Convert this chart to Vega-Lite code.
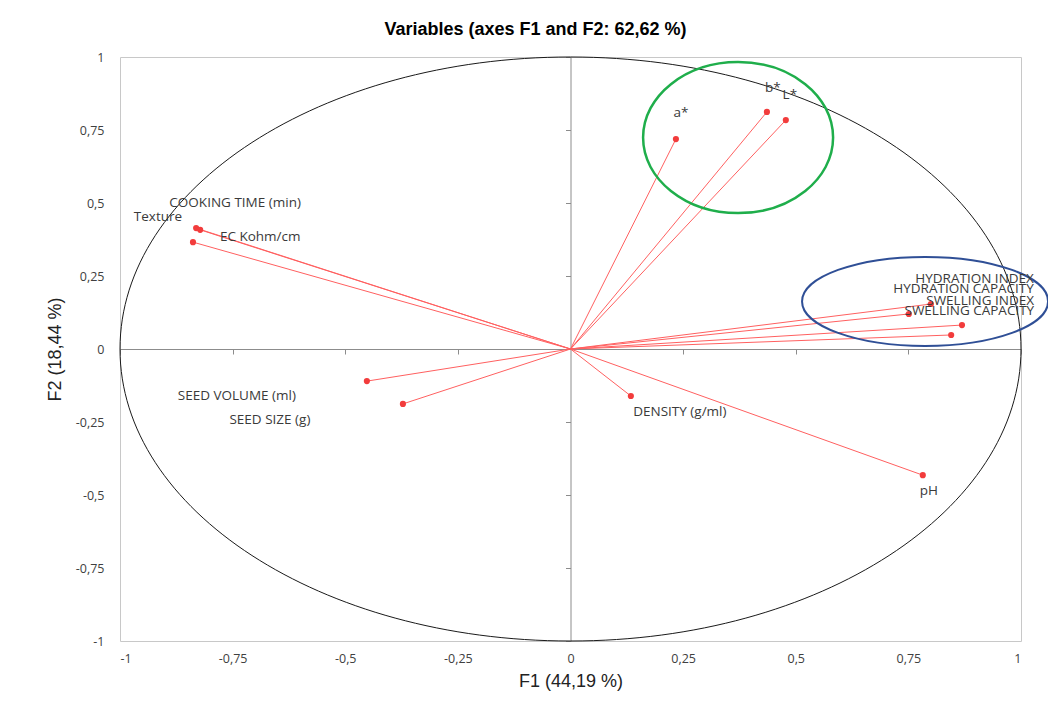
{
  "$schema": "https://vega.github.io/schema/vega-lite/v6.json",
  "width": 901,
  "height": 584,
  "autosize": {"type": "none"},
  "padding": {"left": 120, "top": 57, "right": 27, "bottom": 77},
  "background": "white",
  "config": {
    "view": {"stroke": "#C8C8C8", "strokeWidth": 1},
    "text": {"font": "Open Sans", "fontSize": 13.5, "color": "#3A3A3A", "baseline": "middle"}
  },
  "title": {
    "text": "Variables (axes F1 and F2: 62,62 %)",
    "font": "Liberation Sans",
    "fontSize": 18,
    "fontWeight": "bold",
    "color": "#000000",
    "anchor": "middle",
    "dx": -35,
    "offset": 12
  },
  "datasets": {
    "vars": [
      {"name": "a*", "F1": 0.234, "F2": 0.719},
      {"name": "b*", "F1": 0.436, "F2": 0.812},
      {"name": "L*", "F1": 0.478, "F2": 0.784},
      {"name": "COOKING TIME (min)", "F1": -0.831, "F2": 0.414},
      {"name": "EC Kohm/cm", "F1": -0.822, "F2": 0.408},
      {"name": "Texture", "F1": -0.838, "F2": 0.366},
      {"name": "SEED VOLUME (ml)", "F1": -0.452, "F2": -0.110},
      {"name": "SEED SIZE (g)", "F1": -0.372, "F2": -0.188},
      {"name": "DENSITY (g/ml)", "F1": 0.134, "F2": -0.161},
      {"name": "pH", "F1": 0.782, "F2": -0.432},
      {"name": "HYDRATION INDEX", "F1": 0.800, "F2": 0.154},
      {"name": "HYDRATION CAPACITY", "F1": 0.751, "F2": 0.120},
      {"name": "SWELLING INDEX", "F1": 0.869, "F2": 0.082},
      {"name": "SWELLING CAPACITY", "F1": 0.845, "F2": 0.048}
    ],
    "rings": [
      {"group": "colour", "F1": 0.372, "F2": 0.724},
      {"group": "hydration", "F1": 0.787, "F2": 0.163}
    ]
  },
  "resolve": {"axis": {"x": "independent", "y": "independent"}},
  "layer": [
    {
      "data": {"values": [{"F1": 0, "F2": 0}]},
      "mark": {
        "type": "point",
        "shape": "M -1 0 C -1 -0.358 -0.5523 -0.6482 0 -0.6482 C 0.5523 -0.6482 1 -0.358 1 0 C 1 0.358 0.5523 0.6482 0 0.6482 C -0.5523 0.6482 -1 0.358 -1 0 Z",
        "size": 811801,
        "filled": false,
        "stroke": "#1a1a1a",
        "strokeWidth": 1,
        "opacity": 1
      },
      "encoding": {
        "x": {
          "field": "F1", "type": "quantitative",
          "scale": {"domain": [-1, 1], "nice": false, "zero": false},
          "axis": {
            "title": "F1 (44,19 %)",
            "values": [-1, -0.75, -0.5, -0.25, 0, 0.25, 0.5, 0.75, 1],
            "labelExpr": "replace(toString(datum.value), '.', ',')",
            "grid": false, "ticks": false, "domain": false,
            "labelPadding": 11,
            "labelFont": "Open Sans", "labelFontSize": 12.5, "labelColor": "#404040",
            "titleFont": "Liberation Sans", "titleFontSize": 18, "titleFontWeight": "normal", "titleColor": "#222222",
            "titlePadding": 8
          }
        },
        "y": {
          "field": "F2", "type": "quantitative",
          "scale": {"domain": [-1, 1], "nice": false, "zero": false},
          "axis": {
            "title": "F2 (18,44 %)",
            "values": [-1, -0.75, -0.5, -0.25, 0, 0.25, 0.5, 0.75, 1],
            "labelExpr": "replace(toString(datum.value), '.', ',')",
            "grid": false, "ticks": false, "domain": false,
            "labelPadding": 16,
            "labelFont": "Open Sans", "labelFontSize": 12.5, "labelColor": "#404040",
            "titleFont": "Liberation Sans", "titleFontSize": 18, "titleFontWeight": "normal", "titleColor": "#222222",
            "titlePadding": 11
          }
        }
      }
    },
    {
      "data": {"name": "vars"},
      "mark": {"type": "rule", "color": "#FF6060", "strokeWidth": 1},
      "encoding": {
        "x": {
          "field": "F1", "type": "quantitative",
          "axis": {
            "orient": "bottom", "offset": -292,
            "values": [-1, -0.75, -0.5, -0.25, 0.25, 0.5, 0.75, 1],
            "labels": false, "title": null, "grid": false,
            "domainColor": "#8C8C8C", "tickColor": "#8C8C8C", "tickSize": 5
          }
        },
        "y": {
          "field": "F2", "type": "quantitative",
          "axis": {
            "orient": "left", "offset": -450.5,
            "values": [-1, -0.75, -0.5, -0.25, 0.25, 0.5, 0.75, 1],
            "labels": false, "title": null, "grid": false,
            "domainColor": "#8C8C8C", "tickColor": "#8C8C8C", "tickSize": 5
          }
        },
        "x2": {"datum": 0},
        "y2": {"datum": 0}
      }
    },
    {
      "data": {"name": "vars"},
      "mark": {"type": "circle", "color": "#F23C3C", "size": 38, "opacity": 1},
      "encoding": {
        "x": {"field": "F1", "type": "quantitative", "axis": null},
        "y": {"field": "F2", "type": "quantitative", "axis": null}
      }
    },
    {
      "data": {"name": "rings"},
      "transform": [{"filter": "datum.group === 'colour'"}],
      "mark": {
        "type": "point",
        "shape": "M -1 0 C -1 -0.439 -0.5523 -0.795 0 -0.795 C 0.5523 -0.795 1 -0.439 1 0 C 1 0.439 0.5523 0.795 0 0.795 C -0.5523 0.795 -1 0.439 -1 0 Z",
        "size": 36100, "filled": false, "stroke": "#1FAE4B", "strokeWidth": 2.5, "opacity": 1
      },
      "encoding": {
        "x": {"field": "F1", "type": "quantitative", "axis": null},
        "y": {"field": "F2", "type": "quantitative", "axis": null}
      }
    },
    {
      "data": {"name": "rings"},
      "transform": [{"filter": "datum.group === 'hydration'"}],
      "mark": {
        "type": "point",
        "shape": "M -1 0 C -1 -0.2 -0.5523 -0.362 0 -0.362 C 0.5523 -0.362 1 -0.2 1 0 C 1 0.2 0.5523 0.362 0 0.362 C -0.5523 0.362 -1 0.2 -1 0 Z",
        "size": 60516, "filled": false, "stroke": "#2F4F96", "strokeWidth": 2, "opacity": 1
      },
      "encoding": {
        "x": {"field": "F1", "type": "quantitative", "axis": null},
        "y": {"field": "F2", "type": "quantitative", "axis": null}
      }
    },
    {"data": {"name": "vars"}, "transform": [{"filter": "datum.name === 'a*'"}],
     "mark": {"type": "text", "align": "center", "dx": 5, "dy": -26},
     "encoding": {"x": {"field": "F1", "type": "quantitative", "axis": null}, "y": {"field": "F2", "type": "quantitative", "axis": null}, "text": {"field": "name"}}},
    {"data": {"name": "vars"}, "transform": [{"filter": "datum.name === 'b*'"}],
     "mark": {"type": "text", "align": "center", "dx": 6, "dy": -24},
     "encoding": {"x": {"field": "F1", "type": "quantitative", "axis": null}, "y": {"field": "F2", "type": "quantitative", "axis": null}, "text": {"field": "name"}}},
    {"data": {"name": "vars"}, "transform": [{"filter": "datum.name === 'L*'"}],
     "mark": {"type": "text", "align": "center", "dx": 4, "dy": -25},
     "encoding": {"x": {"field": "F1", "type": "quantitative", "axis": null}, "y": {"field": "F2", "type": "quantitative", "axis": null}, "text": {"field": "name"}}},
    {"data": {"name": "vars"}, "transform": [{"filter": "datum.name === 'COOKING TIME (min)'"}],
     "mark": {"type": "text", "align": "center", "dx": 39, "dy": -25},
     "encoding": {"x": {"field": "F1", "type": "quantitative", "axis": null}, "y": {"field": "F2", "type": "quantitative", "axis": null}, "text": {"field": "name"}}},
    {"data": {"name": "vars"}, "transform": [{"filter": "datum.name === 'Texture'"}],
     "mark": {"type": "text", "align": "center", "dx": -35, "dy": -25},
     "encoding": {"x": {"field": "F1", "type": "quantitative", "axis": null}, "y": {"field": "F2", "type": "quantitative", "axis": null}, "text": {"field": "name"}}},
    {"data": {"name": "vars"}, "transform": [{"filter": "datum.name === 'EC Kohm/cm'"}],
     "mark": {"type": "text", "align": "center", "dx": 60, "dy": 7},
     "encoding": {"x": {"field": "F1", "type": "quantitative", "axis": null}, "y": {"field": "F2", "type": "quantitative", "axis": null}, "text": {"field": "name"}}},
    {"data": {"name": "vars"}, "transform": [{"filter": "datum.name === 'SEED VOLUME (ml)'"}],
     "mark": {"type": "text", "align": "center", "dx": -130, "dy": 15},
     "encoding": {"x": {"field": "F1", "type": "quantitative", "axis": null}, "y": {"field": "F2", "type": "quantitative", "axis": null}, "text": {"field": "name"}}},
    {"data": {"name": "vars"}, "transform": [{"filter": "datum.name === 'SEED SIZE (g)'"}],
     "mark": {"type": "text", "align": "center", "dx": -133, "dy": 16},
     "encoding": {"x": {"field": "F1", "type": "quantitative", "axis": null}, "y": {"field": "F2", "type": "quantitative", "axis": null}, "text": {"field": "name"}}},
    {"data": {"name": "vars"}, "transform": [{"filter": "datum.name === 'DENSITY (g/ml)'"}],
     "mark": {"type": "text", "align": "center", "dx": 49, "dy": 16},
     "encoding": {"x": {"field": "F1", "type": "quantitative", "axis": null}, "y": {"field": "F2", "type": "quantitative", "axis": null}, "text": {"field": "name"}}},
    {"data": {"name": "vars"}, "transform": [{"filter": "datum.name === 'pH'"}],
     "mark": {"type": "text", "align": "center", "dx": 6, "dy": 16},
     "encoding": {"x": {"field": "F1", "type": "quantitative", "axis": null}, "y": {"field": "F2", "type": "quantitative", "axis": null}, "text": {"field": "name"}}},
    {"data": {"name": "vars"}, "transform": [{"filter": "datum.name === 'HYDRATION INDEX'"}],
     "mark": {"type": "text", "align": "right", "dx": 103, "dy": -25},
     "encoding": {"x": {"field": "F1", "type": "quantitative", "axis": null}, "y": {"field": "F2", "type": "quantitative", "axis": null}, "text": {"field": "name"}}},
    {"data": {"name": "vars"}, "transform": [{"filter": "datum.name === 'HYDRATION CAPACITY'"}],
     "mark": {"type": "text", "align": "right", "dx": 125, "dy": -25},
     "encoding": {"x": {"field": "F1", "type": "quantitative", "axis": null}, "y": {"field": "F2", "type": "quantitative", "axis": null}, "text": {"field": "name"}}},
    {"data": {"name": "vars"}, "transform": [{"filter": "datum.name === 'SWELLING INDEX'"}],
     "mark": {"type": "text", "align": "right", "dx": 72, "dy": -24},
     "encoding": {"x": {"field": "F1", "type": "quantitative", "axis": null}, "y": {"field": "F2", "type": "quantitative", "axis": null}, "text": {"field": "name"}}},
    {"data": {"name": "vars"}, "transform": [{"filter": "datum.name === 'SWELLING CAPACITY'"}],
     "mark": {"type": "text", "align": "right", "dx": 83, "dy": -24},
     "encoding": {"x": {"field": "F1", "type": "quantitative", "axis": null}, "y": {"field": "F2", "type": "quantitative", "axis": null}, "text": {"field": "name"}}}
  ]
}
